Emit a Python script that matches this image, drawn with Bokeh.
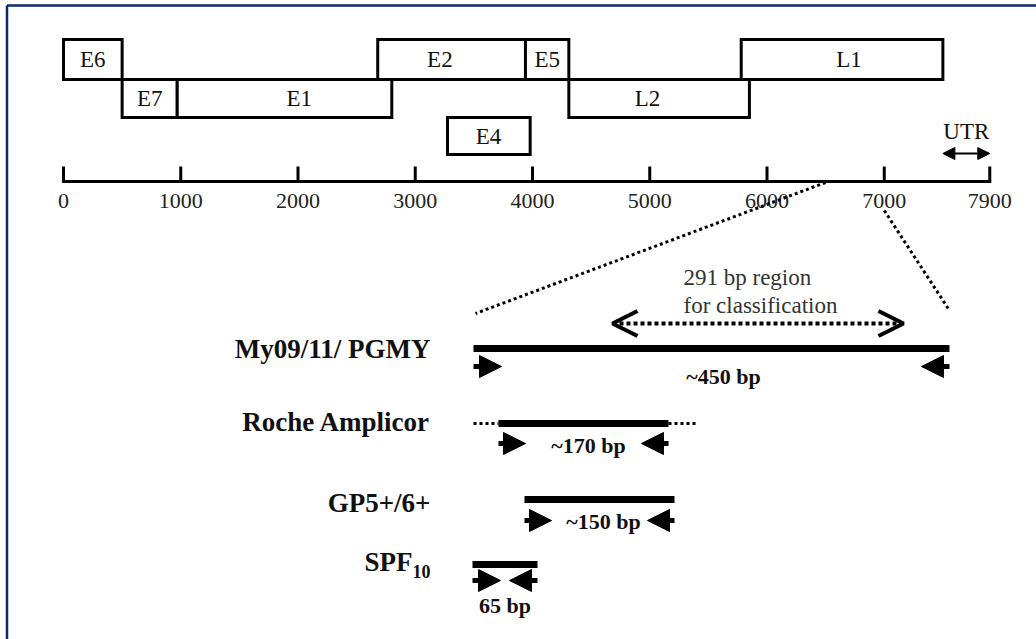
from bokeh.plotting import figure
from bokeh.models import Range1d, Arrow, NormalHead, OpenHead, ColumnDataSource
from bokeh.core.properties import value
from bokeh.embed import file_html
from bokeh.resources import INLINE

# ---------------- data ----------------
# genome map (positions in bp)
genes = ["E6", "E7", "E1", "E2", "E4", "E5", "L2", "L1"]
gene_start = [0, 500, 970, 2680, 3275, 3940, 4310, 5780]
gene_end = [500, 970, 2800, 3940, 3980, 4310, 5850, 7500]
gene_row = [0, 1, 1, 0, 2, 0, 1, 0]
gene_label_at = [250, 735, 2010, 3210, 3625, 4125, 4980, 6700]

genome_ticks = [0, 1000, 2000, 3000, 4000, 5000, 6000, 7000, 7900]
genome_tick_labels = ["0", "1000", "2000", "3000", "4000", "5000", "6000", "7000", "7900"]
utr_span = [7500, 7900]
zoom_span = [6500, 7000]          # part of L1 that is enlarged below

# PCR amplicons (bp, relative to the My09/11 forward primer)
assays = ["My09/11/ PGMY", "Roche Amplicor", "GP5+/6+", "SPF"]
assay_sub = ["", "", "", "10"]
amp_start = [0, 25, 51, -1]
amp_end = [476, 195, 201, 64]
primer_len = [28, 27, 27, 28]
size_labels = ["~450 bp", "~170 bp", "~150 bp", "65 bp"]
roche_flank = [0, 225]
region_291 = [139, 430]

# ---------------- layout ----------------
W, H = 1036, 639
FONT = value("Liberation Serif")
G_PX0, G_SCALE = 63, 0.11725      # genome: px of 0 bp, px per bp
D_PX0, D_SCALE = 473, 1.0         # detail: px of 0 bp, px per bp

ROW_TOP = [39, 79, 117]
ROW_BOT = [79, 117, 154]
AXIS_Y, TICK_TOP, TICK_LABEL_Y = 181, 166, 200
UTR_Y, UTR_TEXT_Y = 153, 131
AMP_Y = [348, 423, 499, 564]
PRIMER_Y = [366, 443, 520, 580]
NAME_Y = [348, 421, 502, 561]
SIZE_Y = [376, 445, 521, 605]
SIZE_DX = [12, 5, 4, 0]
NAME_X = 430
REGION_Y = 323
REGION_TEXT_Y = [277, 305]


def gpx(bp):
    return G_PX0 + bp * G_SCALE


def dpx(bp):
    return D_PX0 + bp * D_SCALE


p = figure(width=W, height=H, output_backend="svg", toolbar_location=None,
           x_range=Range1d(-G_PX0 / G_SCALE, (W - G_PX0) / G_SCALE),
           y_range=Range1d(H, 0), min_border=0,
           x_axis_location=None, y_axis_location=None)
p.extra_x_ranges = {"px": Range1d(0, W),
                    "detail": Range1d(-D_PX0 / D_SCALE, (W - D_PX0) / D_SCALE)}
p.grid.visible = False
p.outline_line_color = None
p.background_fill_color = "white"
p.border_fill_color = "white"

# frame lines
p.segment(x0=[6.5, 6.5], y0=[5, 5], x1=[6.5, W], y1=[H, 5],
          line_color="#0b2a6b", line_width=2.5, x_range_name="px")

# gene boxes
gsrc = ColumnDataSource(dict(
    left=gene_start, right=gene_end,
    top=[ROW_TOP[r] for r in gene_row], bottom=[ROW_BOT[r] for r in gene_row],
    lx=gene_label_at, ly=[(ROW_TOP[r] + ROW_BOT[r]) / 2 for r in gene_row],
    name=genes))
p.quad(left="left", right="right", top="top", bottom="bottom", source=gsrc,
       fill_color="white", line_color="black", line_width=3, line_join="miter")
p.text(x="lx", y="ly", text="name", source=gsrc, text_font=FONT,
       text_font_size="23px", text_align="center", text_baseline="middle",
       text_color="#111111")

# genome ruler
p.segment(x0=[genome_ticks[0]], y0=[AXIS_Y], x1=[genome_ticks[-1]], y1=[AXIS_Y],
          line_color="black", line_width=3, line_cap="square")
p.segment(x0=genome_ticks, y0=[TICK_TOP] * len(genome_ticks),
          x1=genome_ticks, y1=[AXIS_Y] * len(genome_ticks),
          line_color="black", line_width=3)
p.text(x=genome_ticks, y=[TICK_LABEL_Y] * len(genome_ticks), text=genome_tick_labels,
       text_font=FONT, text_font_size="22px", text_align="center",
       text_baseline="middle", text_color="#222222")

# UTR
p.add_layout(Arrow(x_start=utr_span[0], y_start=UTR_Y, x_end=utr_span[1], y_end=UTR_Y,
                   line_width=2,
                   start=NormalHead(size=12, fill_color="black", line_color="black", line_width=1),
                   end=NormalHead(size=12, fill_color="black", line_color="black", line_width=1)))
p.text(x=[sum(utr_span) / 2], y=[UTR_TEXT_Y], text=["UTR"], text_font=FONT,
       text_font_size="23px", text_align="center", text_baseline="middle",
       text_color="#111111")

# dotted lines linking the genome to the enlarged region
p.segment(x0=[gpx(zoom_span[0]), gpx(zoom_span[1])], y0=[AXIS_Y + 1, 210],
          x1=[dpx(amp_start[0]) + 2, dpx(amp_end[0])], y1=[313, 310],
          line_color="black", line_width=3, line_dash="3 3", x_range_name="px")

# 291 bp classification region
p.add_layout(Arrow(x_start=region_291[0], y_start=REGION_Y, x_end=region_291[1], y_end=REGION_Y,
                   line_width=4, line_dash="4 3", x_range_name="detail",
                   start=OpenHead(size=25, line_width=4, line_color="black"),
                   end=OpenHead(size=25, line_width=4, line_color="black")))
p.text(x=[region_291[0]] * 2, y=REGION_TEXT_Y, text=["291 bp region", "for classification"],
       x_offset=71, text_font=FONT, text_font_size="23px", text_align="left",
       text_baseline="middle", text_color="#333333", x_range_name="detail")

# Roche flanks (dotted continuation)
p.segment(x0=[roche_flank[0], amp_end[1]], y0=[AMP_Y[1]] * 2,
          x1=[amp_start[1], roche_flank[1]], y1=[AMP_Y[1]] * 2,
          line_color="black", line_width=3, line_dash="3 3", x_range_name="detail")

# amplicons
asrc = ColumnDataSource(dict(x0=amp_start, x1=amp_end, y=AMP_Y))
p.segment(x0="x0", y0="y", x1="x1", y1="y", source=asrc, line_color="black",
          line_width=7, line_cap="butt", x_range_name="detail")

# primers
fwd = ColumnDataSource(dict(xs=amp_start, xe=[s + l for s, l in zip(amp_start, primer_len)],
                            y=PRIMER_Y))
rev = ColumnDataSource(dict(xs=amp_end, xe=[e - l for e, l in zip(amp_end, primer_len)],
                            y=PRIMER_Y))
for src in (fwd, rev):
    p.add_layout(Arrow(x_start="xs", y_start="y", x_end="xe", y_end="y", source=src,
                       line_width=5, x_range_name="detail",
                       end=NormalHead(size=22, fill_color="black", line_color="black",
                                      line_width=1)))

# amplicon size labels
ssrc = ColumnDataSource(dict(x=[(s + e) / 2 for s, e in zip(amp_start, amp_end)],
                             y=SIZE_Y, t=size_labels, dx=SIZE_DX))
p.text(x="x", y="y", text="t", x_offset="dx", source=ssrc, text_font=FONT,
       text_font_size="22px", text_font_style="bold", text_align="center",
       text_baseline="middle", text_color="#111111", x_range_name="detail")

# assay names
sub_w = [0 if s == "" else 18 for s in assay_sub]
nsrc = ColumnDataSource(dict(x=[NAME_X] * len(assays), y=NAME_Y, t=assays,
                             dx=[-w for w in sub_w]))
p.text(x="x", y="y", text="t", x_offset="dx", source=nsrc, text_font=FONT,
       text_font_size="27px", text_font_style="bold", text_align="right",
       text_baseline="middle", text_color="#111111", x_range_name="px")
sub_idx = [i for i, s in enumerate(assay_sub) if s]
p.text(x=[NAME_X] * len(sub_idx), y=[NAME_Y[i] + 10 for i in sub_idx],
       text=[assay_sub[i] for i in sub_idx], text_font=FONT, text_font_size="18px",
       text_font_style="bold", text_align="right", text_baseline="middle",
       text_color="#111111", x_range_name="px")

open("out.html", "w").write(file_html(p, INLINE))
